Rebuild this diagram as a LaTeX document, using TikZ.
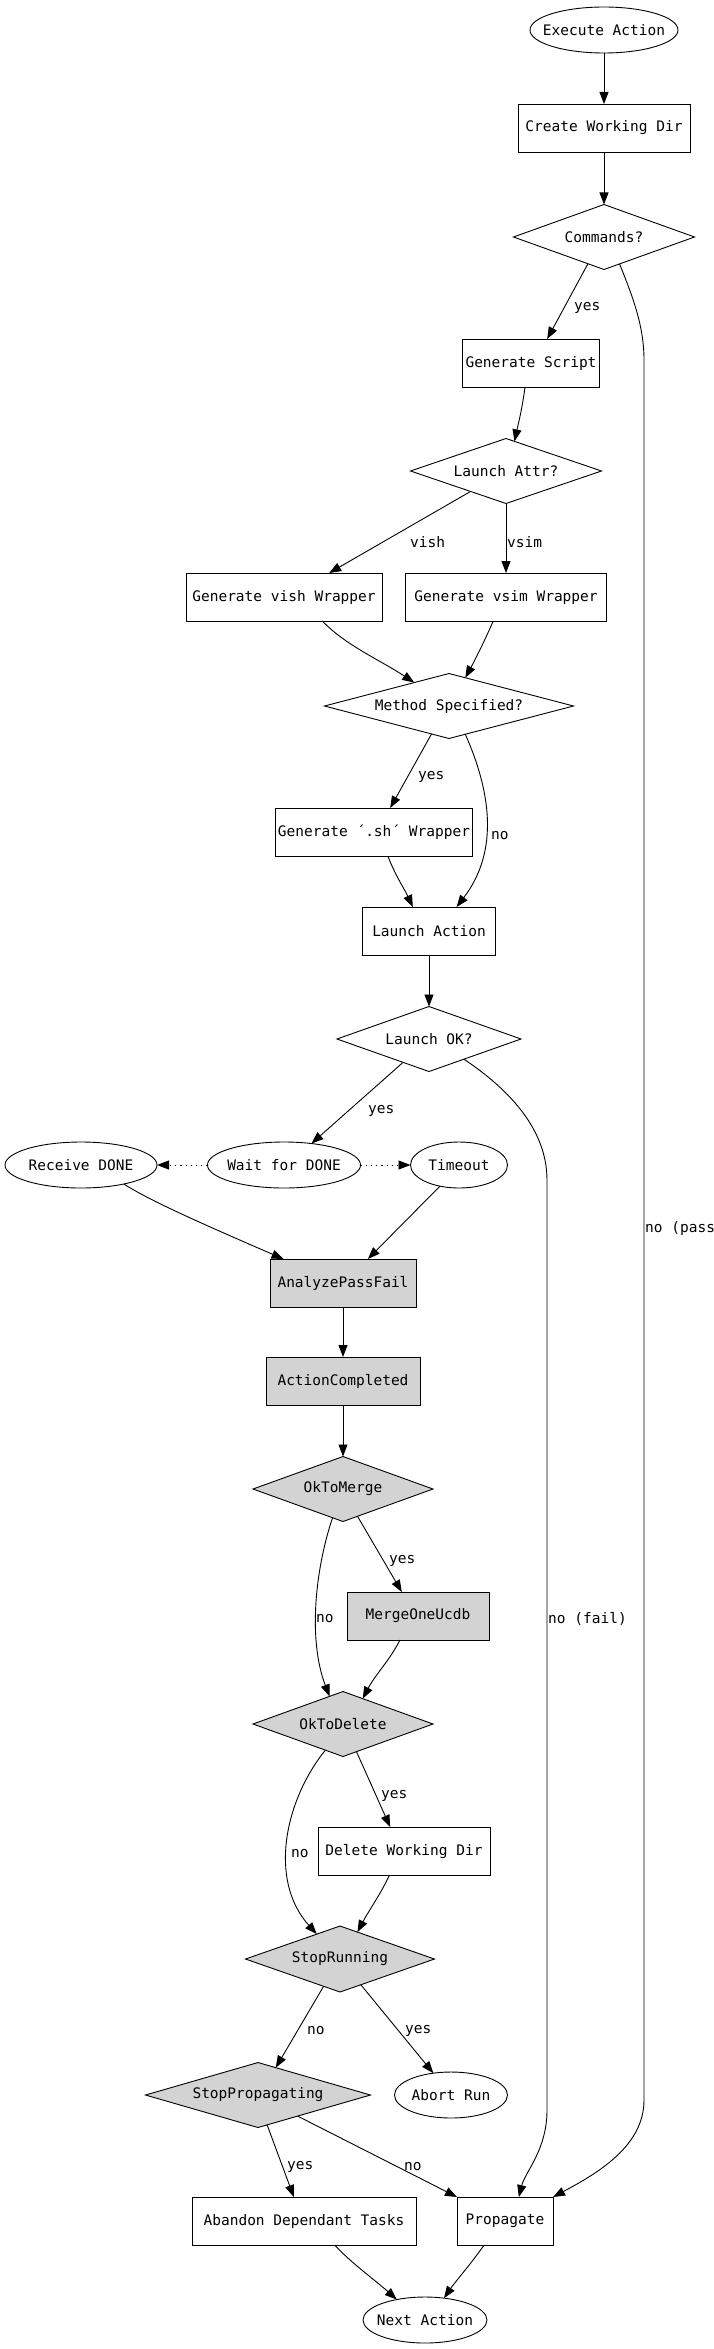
\documentclass[tikz,border=0pt]{standalone}
\usepackage{fontspec}
\newfontfamily\gvfont{DejaVu Sans Mono}
\usetikzlibrary{shapes.geometric,arrows.meta}
\definecolor{gvgray}{RGB}{211,211,211}
\begin{document}
\begin{tikzpicture}[x=1pt,y=-1pt,
  font=\gvfont\fontsize{14.5}{17}\selectfont,
  base/.style={draw=black, line width=0.9pt, inner sep=0pt, outer sep=0pt},
  box/.style={base, rectangle, minimum width=#1, minimum height=48},
  gbox/.style={box=#1, fill=gvgray},
  dia/.style={base, diamond, minimum width=#1, minimum height=65},
  gdia/.style={dia=#1, fill=gvgray},
  ell/.style={base, ellipse, minimum width=#1, minimum height=46},
  txt/.style={label={center:{#1}}},
  conn/.style={draw, line width=0.9pt, -{Triangle[length=12pt,width=9pt]}},
  dotconn/.style={conn, dash pattern=on 1.2pt off 4pt},
  lbl/.style={inner sep=0pt, anchor=west}]
\useasboundingbox (0,0) rectangle (713,2349);

% nodes
\node[ell=148, txt={Execute Action}] (exec) at (604,30) {};
\node[box=172, txt={Create Working Dir}] (cwd) at (604,128) {};
\node[dia=181, txt={Commands?}] (cmd) at (604,237) {};
\node[box=137, txt={Generate Script}] (gscript) at (531,363) {};
\node[dia=191, txt={Launch Attr?}] (lattr) at (506,471) {};
\node[box=196, txt={Generate vish Wrapper}] (vishw) at (284,597) {};
\node[box=201, txt={Generate vsim Wrapper}] (vsimw) at (506,597) {};
\node[dia=249, txt={Method Specified?}] (ms) at (449,706) {};
\node[box=197, txt={Generate ´.sh´ Wrapper}] (gsh) at (374,832) {};
\node[box=133, txt={Launch Action}] (la) at (429,931) {};
\node[dia=184, txt={Launch OK?}] (lok) at (429,1039) {};
\node[ell=152, txt={Receive DONE}] (recv) at (81,1165) {};
\node[ell=153, txt={Wait for DONE}] (wait) at (284,1165) {};
\node[ell=97, txt={Timeout}] (tout) at (459,1165) {};
\node[gbox=146, txt={AnalyzePassFail}] (apf) at (343,1283) {};
\node[gbox=154, txt={ActionCompleted}] (ac) at (343,1381) {};
\node[gdia=180, txt={OkToMerge}] (otm) at (343,1489) {};
\node[gbox=142, txt={MergeOneUcdb}] (mou) at (418,1616) {};
\node[gdia=180, txt={OkToDelete}] (otd) at (343,1724) {};
\node[box=172, txt={Delete Working Dir}] (dwd) at (404,1851) {};
\node[gdia=189, minimum height=66, txt={StopRunning}] (sr) at (340,1959) {};
\node[gdia=225, txt={StopPropagating}] (sp) at (258,2095) {};
\node[ell=113, txt={Abort Run}] (abort) at (451,2095) {};
\node[box=224, txt={Abandon Dependant Tasks}] (adt) at (304,2221) {};
\node[box=96, txt={Propagate}] (prop) at (505,2221) {};
\node[ell=124, txt={Next Action}] (next) at (425,2320) {};

% connectors
\draw[conn] (exec) -- (cwd);
\draw[conn] (cwd) -- (cmd);
\draw[conn] (cmd.239) -- (gscript.56);
\node[lbl] at (574,308) {yes};
\draw[conn] (cmd.-60) .. controls (632,295) and (644,325) .. (644,360) -- (644,2100)
  .. controls (644,2145) and (600,2172) .. (prop.north east);
\node[lbl] at (645,1228) {no (pass)};
\draw[conn] (gscript.-104) .. controls (522,410) and (518,425) .. (lattr.74);
\draw[conn] (lattr.210) -- (vishw.28);
\node[lbl] at (410,542) {vish};
\draw[conn] (lattr.south) -- (vsimw.north);
\node[lbl] at (507,542) {vsim};
\draw[conn] (vishw.-32) .. controls (345,645) and (380,660) .. (ms.146);
\draw[conn] (vsimw.-118) .. controls (485,640) and (475,660) .. (ms.60);
\draw[conn] (ms.238) -- (gsh.56);
\node[lbl] at (418,777) {yes};
\draw[conn] (ms.-60) .. controls (490,790) and (500,850) .. (la.41);
\node[lbl] at (491,836) {no};
\draw[conn] (gsh.-60) .. controls (395,875) and (405,890) .. (la.124);
\draw[conn] (la) -- (lok);
\draw[conn] (lok.222) -- (wait.38);
\node[lbl] at (368,1111) {yes};
\draw[conn] (lok.-30) .. controls (510,1090) and (547,1130) .. (547,1180) -- (547,2110)
  .. controls (547,2150) and (525,2172) .. (prop.60);
\node[lbl] at (548,1619) {no (fail)};
\draw[dotconn] (wait) -- (recv);
\draw[dotconn] (wait) -- (tout);
\draw[conn] (recv.-24) .. controls (145,1197) and (170,1210) .. (apf.158);
\draw[conn] (tout.228) -- (apf.44);
\draw[conn] (apf) -- (ac);
\draw[conn] (ac) -- (otm);
\draw[conn] (otm.-62) -- (mou.124);
\node[lbl] at (389,1561) {yes};
\draw[conn] (otm.250) .. controls (315,1570) and (308,1640) .. (otd.116);
\node[lbl] at (316,1619) {no};
\draw[conn] (mou.233) .. controls (390,1660) and (375,1675) .. (otd.52);
\draw[conn] (otd.-64) -- (dwd.120);
\node[lbl] at (381,1796) {yes};
\draw[conn] (otd.236) .. controls (285,1800) and (268,1880) .. (sr.133);
\node[lbl] at (291,1854) {no};
\draw[conn] (dwd.239) .. controls (380,1895) and (368,1912) .. (sr.57);
\draw[conn] (sr.239) -- (sp.57);
\node[lbl] at (307,2031) {no};
\draw[conn] (sr.-51) -- (abort.129);
\node[lbl] at (405,2031) {yes};
\draw[conn] (sp.-73) -- (adt.113);
\node[lbl] at (287,2167) {yes};
\draw[conn] (sp.-28) -- (prop.north west);
\node[lbl] at (404,2167) {no};
\draw[conn] (adt.-38) .. controls (350,2262) and (375,2280) .. (next.144);
\draw[conn] (prop.229) .. controls (470,2265) and (455,2282) .. (next.49);
\end{tikzpicture}
\end{document}
